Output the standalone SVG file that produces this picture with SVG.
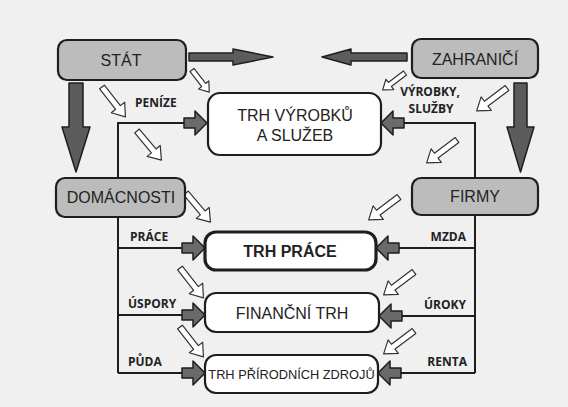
<svg xmlns="http://www.w3.org/2000/svg" xmlns:xlink="http://www.w3.org/1999/xlink" width="568" height="407" viewBox="0 0 568 407">
<style>
.sect{fill:#bcbcbc;stroke:#1e1e1e;stroke-width:2.2}
.mkt{fill:#ffffff;stroke:#1e1e1e;stroke-width:2.2}
.nl{font-family:"Liberation Sans",Arial,sans-serif;font-size:16px;fill:#222;text-anchor:middle}
.lb{font-family:"Open Sans","Liberation Sans",sans-serif;font-size:12px;font-weight:bold;fill:#222}
.ln{fill:none;stroke:#1e1e1e;stroke-width:2}
.big{fill:#5c5c5c;stroke:#1e1e1e;stroke-width:1.5;stroke-linejoin:round}
.ba{fill:#6a6a6a;stroke:#1e1e1e;stroke-width:1.5;stroke-linejoin:round}
.ha{fill:#ffffff;stroke:#333;stroke-width:1.2;stroke-linejoin:round}
</style>
<defs>
<path id="blk" d="M-23,-5 H-12 V-12 L0,0 L-12,12 V5 H-23 Z"/>
<path id="hol" d="M0,-3 H26 V-8.5 L38,0 L26,8.5 V3 H0 Z"/>
<path id="hols" d="M0,-2.5 H19 V-6.5 L28,0 L19,6.5 V2.5 H0 Z"/>
</defs>
<rect x="0" y="0" width="568" height="407" fill="#f0f0f0"/>

<g id="connectors">
<path class="ln" d="M118,178 V123 H184"/>
<path class="ln" d="M118,217 V373 M118,248 H183 M118,315 H183 M118,373 H183"/>
<path class="ln" d="M475,178 V123 H404"/>
<path class="ln" d="M475,215 V373 M475,248 H399 M475,316 H402 M475,373 H401"/>
<use href="#blk" class="ba" transform="translate(207,123)"/>
<use href="#blk" class="ba" transform="translate(205,248)"/>
<use href="#blk" class="ba" transform="translate(205,315)"/>
<use href="#blk" class="ba" transform="translate(205,373)"/>
<use href="#blk" class="ba" transform="translate(381,123) rotate(180)"/>
<use href="#blk" class="ba" transform="translate(376,248) rotate(180)"/>
<use href="#blk" class="ba" transform="translate(379,316) rotate(180)"/>
<use href="#blk" class="ba" transform="translate(378,373) rotate(180)"/>
<path class="big" d="M69,83 H83 V127 H90 L76,172 L62,127 H69 Z"/>
<path class="big" d="M514,83 H527 V127 H534 L520.5,172 L507,127 H514 Z"/>
<path class="big" d="M189,53 H233 V49 L273,57 L233,65 V61 H189 Z"/>
<path class="big" d="M407,53 H351 V49 L322,57 L351,65 V61 H407 Z"/>
<use href="#hols" class="ha" transform="translate(192,70) rotate(52)"/>
<use href="#hol" class="ha" transform="translate(102,87) rotate(52)"/>
<use href="#hol" class="ha" transform="translate(137,131) rotate(50)"/>
<use href="#hol" class="ha" transform="translate(186,193) rotate(50)"/>
<use href="#hol" class="ha" transform="translate(180,268) rotate(52)"/>
<use href="#hol" class="ha" transform="translate(180,327) rotate(52)"/>
<use href="#hols" class="ha" transform="translate(405,73) rotate(143)"/>
<use href="#hol" class="ha" transform="translate(507,88) rotate(143)"/>
<use href="#hol" class="ha" transform="translate(457,140) rotate(143)"/>
<use href="#hol" class="ha" transform="translate(399,197) rotate(143)"/>
<use href="#hol" class="ha" transform="translate(414,272) rotate(143)"/>
<use href="#hol" class="ha" transform="translate(414,331) rotate(143)"/>
<text class="lb" x="135" y="107">PENÍZE</text>
<text class="lb" x="430" y="96" text-anchor="middle">VÝROBKY,</text>
<text class="lb" x="431" y="113" text-anchor="middle">SLUŽBY</text>
<text class="lb" x="130" y="241">PRÁCE</text>
<text class="lb" x="128" y="308">ÚSPORY</text>
<text class="lb" x="128" y="366">PŮDA</text>
<text class="lb" x="466" y="241" text-anchor="end">MZDA</text>
<text class="lb" x="466" y="309" text-anchor="end">ÚROKY</text>
<text class="lb" x="467" y="366" text-anchor="end">RENTA</text>
</g>

<g id="stat">
<rect class="sect" x="58" y="40" width="128" height="40" rx="9"/>
<text class="nl" x="121" y="66">STÁT</text>
</g>
<g id="zahranici">
<rect class="sect" x="412" y="39" width="126" height="39" rx="9"/>
<text class="nl" x="475" y="65">ZAHRANIČÍ</text>
</g>
<g id="domacnosti">
<rect class="sect" x="56" y="178" width="129" height="39" rx="9"/>
<text class="nl" x="121" y="203">DOMÁCNOSTI</text>
</g>
<g id="firmy">
<rect class="sect" x="412" y="178" width="126" height="37" rx="9"/>
<text class="nl" x="475" y="202">FIRMY</text>
</g>
<g id="trh-vyrobku">
<rect class="mkt" x="208" y="93" width="173" height="62" rx="12"/>
<text class="nl" x="295" y="121">TRH VÝROBKŮ</text>
<text class="nl" x="295" y="141">A SLUŽEB</text>
</g>
<g id="trh-prace">
<rect class="mkt" x="205" y="232" width="171" height="38" rx="11" style="stroke-width:3.2"/>
<text class="nl" x="290" y="257" style="font-weight:bold;font-size:16px">TRH PRÁCE</text>
</g>
<g id="financni-trh">
<rect class="mkt" x="205" y="293" width="174" height="39" rx="11"/>
<text class="nl" x="292" y="319">FINANČNÍ TRH</text>
</g>
<g id="trh-zdroju">
<rect class="mkt" x="205" y="355" width="173" height="38" rx="11"/>
<text class="nl" x="291.5" y="379" style="font-size:12.8px">TRH PŘÍRODNÍCH ZDROJŮ</text>
</g>
</svg>
